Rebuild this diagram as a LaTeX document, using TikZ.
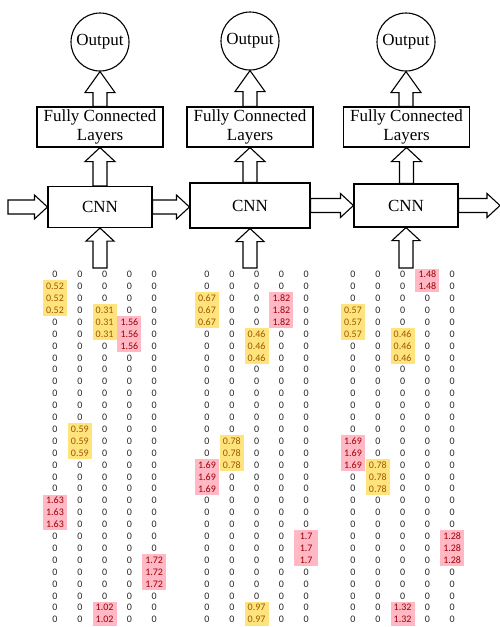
\documentclass[tikz,border=0pt]{standalone}
\usepackage{fontspec}
\setmainfont{Liberation Serif}
\newfontfamily\calibfont{Carlito}
\usetikzlibrary{calc}
\definecolor{yelfill}{HTML}{FFE47E}
\definecolor{yeltext}{HTML}{9C5700}
\definecolor{pinkfill}{HTML}{FFB8C4}
\definecolor{pinktext}{HTML}{9C0006}
\tikzset{
  blk/.style={draw, line width=1.1pt, line join=miter, fill=white},
  outc/.style={draw, circle, line width=1.1pt, minimum size=58pt, inner sep=0pt},
  fcbox/.style={draw, line width=1.1pt, minimum width=126pt, minimum height=40pt, inner sep=1pt, align=center, font=\fontsize{17}{18.5}\selectfont},
  cnnbox/.style={draw, line width=1.1pt, minimum width=104pt, minimum height=41pt, inner sep=0pt},
  num/.style={font=\calibfont\fontsize{10}{10}\selectfont, inner sep=0pt, text=black!85},
  hlyfill/.style={fill=yelfill},
  hlpfill/.style={fill=pinkfill},
  hlytxt/.style={num, text=yeltext},
  hlptxt/.style={num, text=pinktext}
}
\newcommand{\rowtop}{274.5}
\newcommand{\rowsep}{11.9}
% block arrow pointing up: #1 foot, #2 tip, #3 head length, #4 head half width
\newcommand{\blkup}[4]{%
  \draw[blk] let \p1=(#1), \p2=(#2) in
    (\x2-7pt,\y1) -- (\x2-7pt,\y2-#3) -- (\x2-#4,\y2-#3) -- (\x2,\y2)
    -- (\x2+#4,\y2-#3) -- (\x2+7pt,\y2-#3) -- (\x2+7pt,\y1) -- cycle;}
% block arrow pointing right: #1 tail, #2 tip
\newcommand{\blkright}[2]{%
  \draw[blk] let \p1=(#1), \p2=(#2) in
    (\x1,\y1+7pt) -- (\x2-13pt,\y1+7pt) -- (\x2-13pt,\y1+12pt) -- (\x2,\y1)
    -- (\x2-13pt,\y1-12pt) -- (\x2-13pt,\y1-7pt) -- (\x1,\y1-7pt) -- cycle;}
% highlighted run: #1 x0, #2 col, #3 first row, #4 last row, #5 value, #6 y/p
\newcommand{\hlrun}[6]{%
  \pgfmathsetmacro\hx{#1+(#2-1)*24.8}
  \fill[hl#6fill] (\hx-12, {\rowtop+(#3-1)*\rowsep-6}) rectangle (\hx+12, {\rowtop+(#4-1)*\rowsep+6});
  \foreach \r in {#3,...,#4}{%
    \expandafter\gdef\csname hlmark-#1-#2-\r\endcsname{}%
    \node[hl#6txt] (h-#1-#2-\r) at (\hx, {\rowtop+(\r-1)*\rowsep}) {#5};}
}
\begin{document}
\begin{tikzpicture}[x=1pt,y=-1pt, font=\fontsize{17}{19}\selectfont]
\useasboundingbox (0,0) rectangle (500,627);
% top diagram
\node[outc] (out1) at (100,42) {Output};
\node[outc] (out2) at (250,41) {Output};
\node[outc] (out3) at (406,42) {Output};
\node[fcbox] (fc1) at (100,127) {Fully Connected\\Layers};
\node[fcbox] (fc2) at (250,127) {Fully Connected\\Layers};
\node[fcbox] (fc3) at (406.5,127) {Fully Connected\\Layers};
\node[cnnbox] (cnn1) at (100,207) {CNN};
\node[cnnbox, minimum width=120pt, minimum height=45pt] (cnn2) at (250,205.5) {CNN};
\node[cnnbox, minimum height=43pt] (cnn3) at (406,205.5) {CNN};
\coordinate (in0) at (8,207);
\coordinate (outR) at (500,207);
\coordinate (b1) at (100,268);
\coordinate (b2) at (250,268);
\coordinate (b3) at (406,268);
\blkright{in0}{cnn1.west}
\blkright{cnn1.east}{cnn2.west}
\blkright{cnn2.east}{cnn3.west}
\blkright{cnn3.east}{outR}
\foreach \i in {1,2,3}{
  \blkup{b\i}{cnn\i.south}{13pt}{14pt}
  \blkup{cnn\i.north}{fc\i.south}{14pt}{15pt}
  \blkup{fc\i.north}{out\i.south}{21pt}{15pt}
}
% matrix 1
\hlrun{55}{1}{2}{4}{0.52}{y}
\hlrun{55}{3}{4}{6}{0.31}{y}
\hlrun{55}{4}{5}{7}{1.56}{p}
\hlrun{55}{2}{14}{16}{0.59}{y}
\hlrun{55}{1}{20}{22}{1.63}{p}
\hlrun{55}{5}{25}{27}{1.72}{p}
\hlrun{55}{3}{29}{30}{1.02}{p}
% matrix 2
\hlrun{207}{1}{3}{5}{0.67}{y}
\hlrun{207}{4}{3}{5}{1.82}{p}
\hlrun{207}{3}{6}{8}{0.46}{y}
\hlrun{207}{2}{15}{17}{0.78}{y}
\hlrun{207}{1}{17}{19}{1.69}{p}
\hlrun{207}{5}{23}{25}{1.7}{p}
\hlrun{207}{3}{29}{30}{0.97}{y}
% matrix 3
\hlrun{353}{4}{1}{2}{1.48}{p}
\hlrun{353}{1}{4}{6}{0.57}{y}
\hlrun{353}{3}{6}{8}{0.46}{y}
\hlrun{353}{1}{15}{17}{1.69}{p}
\hlrun{353}{2}{17}{19}{0.78}{y}
\hlrun{353}{5}{23}{25}{1.28}{p}
\hlrun{353}{3}{29}{30}{1.32}{p}
% zeros in all other cells
\foreach \xo in {55,207,353}{
  \foreach \c in {1,...,5}{
    \foreach \r in {1,...,30}{
      \ifcsname hlmark-\xo-\c-\r\endcsname\else
      \node[num] (z-\xo-\c-\r) at ({\xo+(\c-1)*24.8},{\rowtop+(\r-1)*\rowsep}) {0};
      \fi
    }
  }
}
\end{tikzpicture}
\end{document}
